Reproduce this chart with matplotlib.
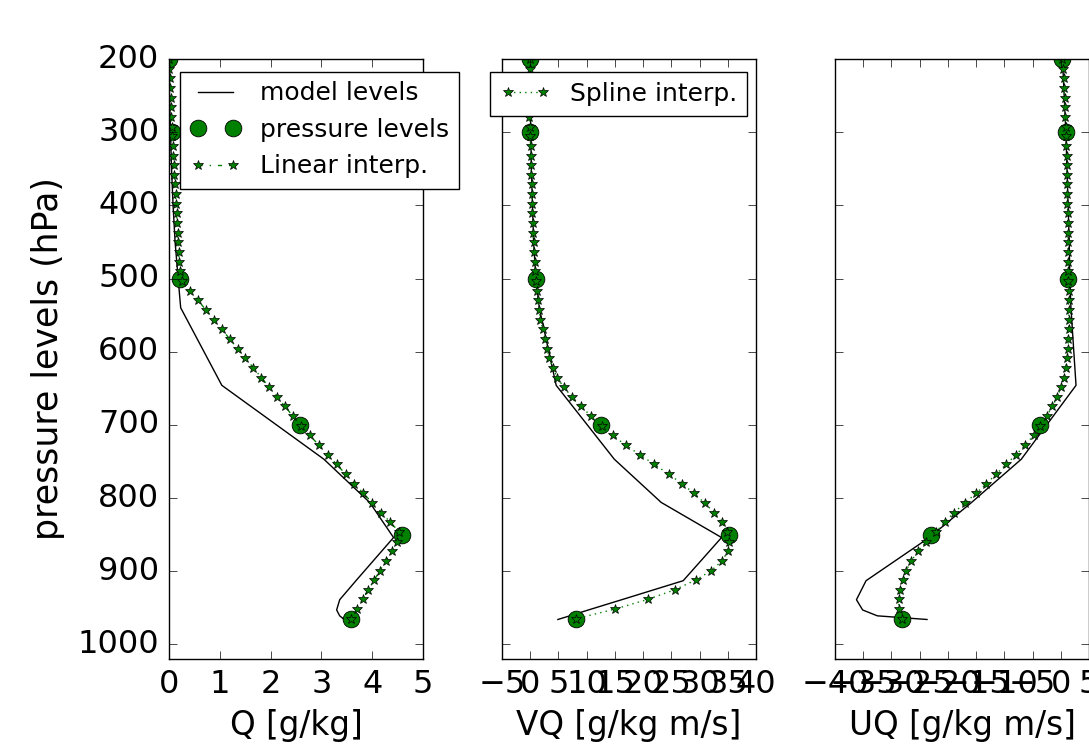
import matplotlib
matplotlib.use("Agg")
import matplotlib.pyplot as plt

plt.style.use("classic")
plt.rcParams["font.family"] = ["DejaVu Sans"]

# ---- data ----
# pressure levels (hPa) where the pressure-level data exist
p_levels = [200, 300, 500, 700, 850, 965]
q_levels = [0.0, 0.06, 0.22, 2.58, 4.58, 3.58]
vq_levels = [0.0, 0.0, 1.04, 12.6, 35.2, 8.1]
uq_levels = [0.3, 0.92, 1.34, -3.7, -23.0, -28.1]

# model levels (hPa)
p_model = [200, 250, 300, 350, 400, 450, 500, 540, 646, 747, 806, 854, 913,
           939, 953, 961, 966]
q_model = [0.0, 0.01, 0.03, 0.05, 0.08, 0.12, 0.18, 0.23, 1.04, 3.05, 3.95,
           4.42, 3.68, 3.36, 3.30, 3.36, 3.45]
vq_model = [0.0, 0.0, 0.1, 0.2, 0.4, 0.6, 1.0, 1.6, 4.6, 14.9, 23.2, 33.9,
            27.1, 16.2, 10.3, 7.0, 4.9]
uq_model = [0.3, 0.6, 0.9, 1.1, 1.3, 1.5, 1.6, 1.8, 2.7, -7.0, -15.8, -23.3,
            -34.5, -36.2, -35.1, -32.5, -23.7]

# interpolation target pressures (hPa)
p_interp = [200.0, 213.2, 226.4, 239.6, 252.8, 265.9, 279.1, 292.3, 305.5,
            318.7, 331.9, 345.1, 358.3, 371.5, 384.7, 397.8, 411.0, 424.2,
            437.4, 450.6, 463.8, 477.0, 490.2, 503.4, 516.6, 529.7, 542.9,
            556.1, 569.3, 582.5, 595.7, 608.9, 622.1, 635.3, 648.4, 661.6,
            674.8, 688.0, 701.2, 714.4, 727.6, 740.8, 754.0, 767.2, 780.3,
            793.5, 806.7, 819.9, 833.1, 846.3, 859.5, 872.7, 885.9, 899.1,
            912.2, 925.4, 938.6, 951.8, 965.0]

q_linear = [0.0, 0.008, 0.016, 0.024, 0.032, 0.040, 0.047, 0.055, 0.064,
            0.075, 0.086, 0.096, 0.107, 0.117, 0.128, 0.138, 0.149, 0.159,
            0.170, 0.180, 0.191, 0.202, 0.212, 0.26, 0.416, 0.570, 0.726,
            0.882, 1.038, 1.194, 1.349, 1.505, 1.661, 1.817, 1.971, 2.127,
            2.283, 2.438, 2.596, 2.772, 2.948, 3.124, 3.300, 3.476, 3.651,
            3.827, 4.003, 4.179, 4.355, 4.531, 4.497, 4.383, 4.268, 4.153,
            4.039, 3.924, 3.810, 3.695, 3.58]

vq_spline = [0.0, -0.1, -0.15, -0.2, -0.2, -0.2, -0.15, -0.05, 0.0,
             0.05, 0.1, 0.15, 0.2, 0.25, 0.3, 0.35, 0.4, 0.45,
             0.5, 0.6, 0.7, 0.8, 0.9, 1.07, 1.2, 1.35, 1.55,
             1.8, 2.2, 2.6, 2.95, 3.4, 4.0, 4.8, 5.9, 7.4,
             9.0, 10.8, 12.75, 14.6, 16.9, 19.4, 22.0, 24.5, 26.9,
             29.0, 30.9, 32.6, 33.9, 34.9, 35.3, 35.0, 34.0, 32.1,
             29.3, 25.6, 20.8, 15.0, 8.1]

uq_spline = [0.3, 0.4, 0.5, 0.58, 0.66, 0.73, 0.8, 0.87, 0.93,
             0.98, 1.03, 1.07, 1.1, 1.13, 1.16, 1.19, 1.22, 1.25,
             1.28, 1.3, 1.32, 1.34, 1.35, 1.36, 1.38, 1.4, 1.42,
             1.42, 1.4, 1.35, 1.28, 1.15, 0.9, 0.55, 0.05, -0.6,
             -1.5, -2.5, -3.6, -4.8, -6.3, -7.9, -9.7, -11.4, -13.2,
             -15.0, -17.0, -18.9, -20.6, -22.1, -23.8, -25.3, -26.5, -27.4,
             -27.9, -28.4, -28.7, -28.7, -28.1]

x_labels = ["Q [g/kg]", "VQ [g/kg m/s]", "UQ [g/kg m/s]"]
x_limits = [(0, 5), (-5, 40), (-40, 5)]
x_ticks = [[0, 1, 2, 3, 4, 5],
           [-5, 0, 5, 10, 15, 20, 25, 30, 35, 40],
           [-40, -35, -30, -25, -20, -15, -10, -5, 0, 5]]
y_ticks = [200, 300, 400, 500, 600, 700, 800, 900, 1000]
interp_labels = ["Linear interp.", "Spline interp.", "Spline interp."]
interp_styles = ["-.", ":", ":"]

# ---- figure ----
W, H = 1089, 749
fig = plt.figure(figsize=(W / 100, H / 100), dpi=100, facecolor="white")

ax_lefts = [169, 502, 835]
ax_w = 254
ax_top, ax_bot = 59, 659

TICK_FS = 23
LABEL_FS = 23.5
model_vals = [q_model, vq_model, uq_model]
level_vals = [q_levels, vq_levels, uq_levels]
interp_vals = [q_linear, vq_spline, uq_spline]

axes = []
for i in range(3):
    ax = fig.add_axes([ax_lefts[i] / W, 1 - ax_bot / H, ax_w / W,
                       (ax_bot - ax_top) / H])
    axes.append(ax)
    ax.plot(model_vals[i], p_model, "k-", lw=1.0, label="model levels")
    ax.plot(level_vals[i], p_levels, "o", color="green", ms=12,
            mec="black", mew=0.6, linestyle="none", label="pressure levels")
    ax.plot(interp_vals[i], p_interp, interp_styles[i], color="green",
            marker="*", ms=7.5, mec="black", mew=0.5, lw=1.0,
            label=interp_labels[i])
    ax.set_ylim(1020, 200)
    ax.set_xlim(*x_limits[i])
    ax.set_xticks(x_ticks[i])
    ax.set_yticks(y_ticks)
    ax.tick_params(labelsize=TICK_FS, direction="in", length=5.5, pad=7)
    ax.set_xlabel(x_labels[i], fontsize=LABEL_FS, labelpad=7)
    if i > 0:
        ax.set_yticklabels([])

axes[0].set_ylabel("pressure levels (hPa)", fontsize=25, labelpad=9)

leg1 = axes[0].legend(loc="upper left", bbox_to_anchor=(180 / W, 1 - 71.5 / H),
                      bbox_transform=fig.transFigure, borderaxespad=0,
                      fontsize=18, numpoints=2, fancybox=False)
h, l = axes[1].get_legend_handles_labels()
leg2 = axes[1].legend([h[2]], [l[2]], loc="upper left",
                      bbox_to_anchor=(490 / W, 1 - 71.5 / H),
                      bbox_transform=fig.transFigure, borderaxespad=0,
                      fontsize=18, numpoints=2, fancybox=False)
for lg in (leg1, leg2):
    lg.set_zorder(10)

fig.savefig("out.png", dpi=100, facecolor="white")
